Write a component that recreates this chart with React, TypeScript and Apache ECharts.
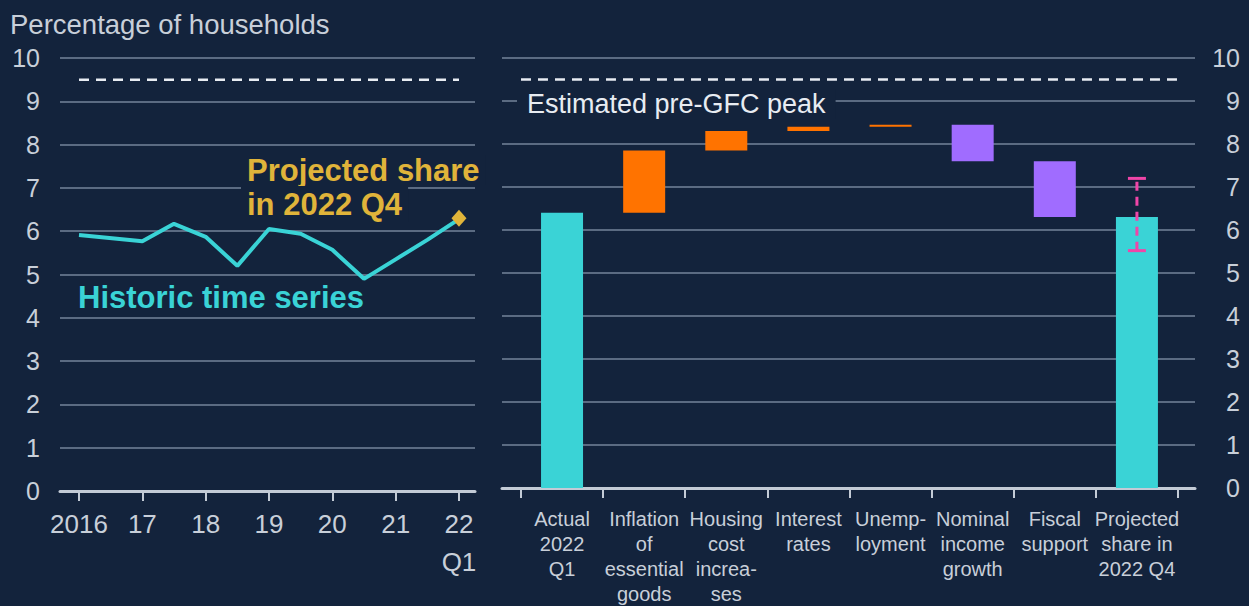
import React, { useEffect, useRef } from "react";
import * as echarts from "echarts";

const BG = "#13233c";
const TEXT = "#c8cfd9";
const GRID = "#5b6b82";
const AXIS = "#c3cbd6";
const CYAN = "#3ad3d6";
const ORANGE = "#ff7300";
const PURPLE = "#a06cff";
const GOLD = "#e0b43a";
const MAGENTA = "#f045a8";
const FONT = "Liberation Sans, Arial, sans-serif";

// Left panel: historic time series (year, percentage of households)
const historicX = [2016, 2017, 2017.5, 2018, 2018.5, 2019, 2019.5, 2020, 2020.5, 2021, 2021.5, 2022];
const historicY = [5.91, 5.77, 6.17, 5.87, 5.2, 6.05, 5.94, 5.57, 4.9, 5.35, 5.8, 6.28];
const projectedPoint = [2022, 6.3];
const yearTicks = [2016, 2017, 2018, 2019, 2020, 2021, 2022];
const yearLabels = ["2016", "17", "18", "19", "20", "21", "22\nQ1"];
const preGfcPeak = 9.5;

// Right panel: waterfall
const categories = [
  "Actual\n2022\nQ1",
  "Inflation\nof\nessential\ngoods",
  "Housing\ncost\nincrea-\nses",
  "Interest\nrates",
  "Unemp-\nloyment",
  "Nominal\nincome\ngrowth",
  "Fiscal\nsupport",
  "Projected\nshare in\n2022 Q4",
];
const actualStart = 6.4;
const contributions = [1.45, 0.45, 0.1, 0.05, -0.85, -1.3];
const projectedShare = 6.3;
const projectedRange = [5.52, 7.2];

export default function App() {
  const ref = useRef<HTMLDivElement>(null);
  useEffect(() => {
    if (!ref.current) return;
    const chart = echarts.init(ref.current, null, { renderer: "svg" });

    // waterfall rows: [x, low, high, colour]
    const wf: any[] = [];
    wf.push([0.5, 0, actualStart, CYAN]);
    let cum = actualStart;
    contributions.forEach((c, i) => {
      const next = cum + c;
      wf.push([i + 1.5, Math.min(cum, next), Math.max(cum, next), c >= 0 ? ORANGE : PURPLE]);
      cum = next;
    });
    wf.push([categories.length - 0.5, 0, projectedShare, CYAN]);

    const yAxisCommon = {
      type: "value",
      min: 0,
      max: 10,
      interval: 1,
      axisLine: { show: false },
      axisTick: { show: false },
      splitLine: { lineStyle: { color: GRID, width: 2 } },
    };

    const option: any = {
      animation: false,
      backgroundColor: BG,
      textStyle: { fontFamily: FONT },
      grid: [
        { left: 60, right: 774, top: 58, bottom: 115 },
        { left: 502, right: 54, top: 58, bottom: 115 },
      ],
      xAxis: [
        {
          type: "value",
          gridIndex: 0,
          min: 2015.7,
          max: 2022.253,
          splitLine: { show: false },
          axisLine: { onZero: false, lineStyle: { color: AXIS, width: 3 } },
          axisTick: {
            show: true,
            customValues: yearTicks,
            length: 10,
            lineStyle: { color: AXIS, width: 2 },
          },
          axisLabel: {
            customValues: yearTicks,
            color: TEXT,
            fontSize: 26,
            lineHeight: 38,
            margin: 14,
            fontFamily: FONT,
            formatter: (v: number) => {
              const i = yearTicks.indexOf(Math.round(v));
              return i >= 0 ? yearLabels[i] : "";
            },
          },
        },
        {
          type: "value",
          gridIndex: 1,
          min: -0.231,
          max: 8.207,
          splitLine: { show: false },
          axisLine: { onZero: false, lineStyle: { color: AXIS, width: 3 } },
          axisTick: {
            show: true,
            customValues: categories.map((_, i) => i).concat([categories.length]),
            length: 10,
            lineStyle: { color: AXIS, width: 2 },
          },
          axisLabel: {
            customValues: categories.map((_, i) => i + 0.5),
            color: TEXT,
            fontSize: 20,
            lineHeight: 25,
            margin: 18,
            fontFamily: FONT,
            align: "center",
            formatter: (v: number) => categories[Math.round(v - 0.5)] ?? "",
          },
        },
      ],
      yAxis: [
        {
          ...yAxisCommon,
          gridIndex: 0,
          position: "left",
          axisLabel: { color: TEXT, fontSize: 25, margin: 20, fontFamily: FONT },
        },
        {
          ...yAxisCommon,
          gridIndex: 1,
          position: "right",
          axisLabel: { color: TEXT, fontSize: 25, margin: 45, align: "right", fontFamily: FONT },
        },
      ],
      series: [
        {
          type: "line",
          xAxisIndex: 0,
          yAxisIndex: 0,
          data: [
            [yearTicks[0], preGfcPeak],
            [yearTicks[yearTicks.length - 1], preGfcPeak],
          ],
          symbol: "none",
          lineStyle: { color: "#e8ecf2", width: 2.5, type: [10, 7] },
          z: 3,
        },
        {
          type: "line",
          xAxisIndex: 0,
          yAxisIndex: 0,
          data: historicX.map((x, i) => [x, historicY[i]]),
          symbol: "none",
          lineStyle: { color: CYAN, width: 4 },
          z: 4,
        },
        {
          type: "scatter",
          xAxisIndex: 0,
          yAxisIndex: 0,
          data: [projectedPoint],
          symbol: "diamond",
          symbolSize: [15, 17],
          itemStyle: { color: GOLD, opacity: 1 },
          z: 5,
        },
        {
          type: "line",
          xAxisIndex: 1,
          yAxisIndex: 1,
          data: [
            [0, preGfcPeak],
            [categories.length, preGfcPeak],
          ],
          symbol: "none",
          lineStyle: { color: "#e8ecf2", width: 2.5, type: [10, 7] },
          z: 3,
        },
        {
          type: "custom",
          xAxisIndex: 1,
          yAxisIndex: 1,
          data: wf,
          encode: { x: 0, y: [1, 2] },
          z: 4,
          renderItem: (params: any, api: any) => {
            const x = api.value(0);
            const lo = api.coord([x, api.value(1)]);
            const hi = api.coord([x, api.value(2)]);
            const color = wf[params.dataIndex][3];
            const w = 42;
            return {
              type: "rect",
              shape: { x: lo[0] - w / 2, y: hi[1], width: w, height: Math.max(lo[1] - hi[1], 1.5) },
              style: { fill: color },
            };
          },
        },
        {
          type: "custom",
          xAxisIndex: 1,
          yAxisIndex: 1,
          data: [[categories.length - 0.5, projectedRange[0], projectedRange[1]]],
          encode: { x: 0, y: [1, 2] },
          z: 6,
          renderItem: (params: any, api: any) => {
            const x = api.value(0);
            const lo = api.coord([x, api.value(1)]);
            const hi = api.coord([x, api.value(2)]);
            const style = { stroke: MAGENTA, lineWidth: 3 };
            return {
              type: "group",
              children: [
                {
                  type: "line",
                  shape: { x1: lo[0], y1: lo[1], x2: hi[0], y2: hi[1] },
                  style: { ...style, lineDash: [9, 6] },
                },
                { type: "line", shape: { x1: lo[0] - 9, y1: lo[1], x2: lo[0] + 9, y2: lo[1] }, style },
                { type: "line", shape: { x1: hi[0] - 9, y1: hi[1], x2: hi[0] + 9, y2: hi[1] }, style },
              ],
            };
          },
        },
      ],
      graphic: [
        {
          type: "text",
          x: 10,
          y: 24,
          z: 100,
          style: {
            text: "Percentage of households",
            fill: TEXT,
            font: `27.5px ${FONT}`,
            verticalAlign: "middle",
          },
        },
        {
          type: "text",
          x: 241,
          y: 170,
          z: 100,
          style: {
            text: "Projected share",
            fill: GOLD,
            font: `bold 31px ${FONT}`,
            verticalAlign: "middle",
            lineHeight: 30,
            backgroundColor: BG,
            padding: [0, 6],
          },
        },
        {
          type: "text",
          x: 241,
          y: 204,
          z: 100,
          style: {
            text: "in 2022 Q4",
            fill: GOLD,
            font: `bold 31px ${FONT}`,
            verticalAlign: "middle",
            lineHeight: 36,
            backgroundColor: BG,
            padding: [0, 6],
          },
        },
        {
          type: "text",
          x: 78,
          y: 297,
          z: 100,
          style: {
            text: "Historic time series",
            fill: CYAN,
            font: `bold 31px ${FONT}`,
            verticalAlign: "middle",
          },
        },
        {
          type: "text",
          x: 517,
          y: 104,
          z: 100,
          style: {
            text: "Estimated pre-GFC peak",
            fill: "#e8ecf2",
            font: `27px ${FONT}`,
            verticalAlign: "middle",
            lineHeight: 30,
            backgroundColor: BG,
            padding: [0, 10],
          },
        },
      ],
    };

    chart.setOption(option);
    return () => chart.dispose();
  }, []);

  return (
    <div
      ref={ref}
      style={{ position: "fixed", left: 0, top: 0, width: 1249, height: 606, background: BG }}
    />
  );
}
